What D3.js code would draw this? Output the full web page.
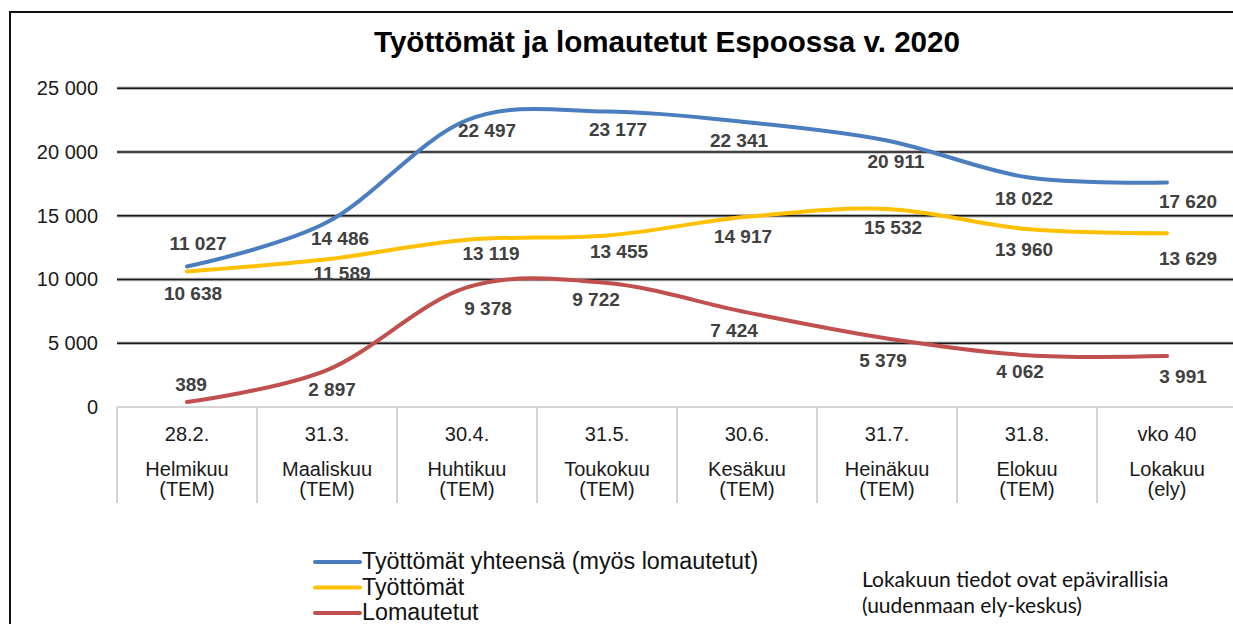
<!DOCTYPE html>
<html>
<head>
<meta charset="utf-8">
<script src="https://cdn.jsdelivr.net/npm/d3@7"></script>
<style>
  body { margin: 0; background: #fff; }
  text { font-family: "Liberation Sans", Arial, sans-serif; }
  text.note { font-family: Lato, "Open Sans", sans-serif; }
</style>
</head>
<body>
<div id="chart"></div>
<script>
// data
var dates = ['28.2.', '31.3.', '30.4.', '31.5.', '30.6.', '31.7.', '31.8.', 'vko 40'];
var months = ['Helmikuu', 'Maaliskuu', 'Huhtikuu', 'Toukokuu', 'Kesäkuu', 'Heinäkuu', 'Elokuu', 'Lokakuu'];
var sources = ['(TEM)', '(TEM)', '(TEM)', '(TEM)', '(TEM)', '(TEM)', '(TEM)', '(ely)'];

var totalValues = [11027, 14486, 22497, 23177, 22341, 20911, 18022, 17620];
var unemployedValues = [10638, 11589, 13119, 13455, 14917, 15532, 13960, 13629];
var laidOffValues = [389, 2897, 9378, 9722, 7424, 5379, 4062, 3991];

var seriesNames = ['Työttömät yhteensä (myös lomautetut)', 'Työttömät', 'Lomautetut'];
var yTicks = [0, 5000, 10000, 15000, 20000, 25000];

// label nudges (px) relative to each point, as placed in the original
var totalLabelOffsets = [[11,-23],[13,16],[20,10],[11,18],[-8,18],[9,21],[-3,21],[21,19]];
var unemployedLabelOffsets = [[6,22],[15,14],[24,13],[12,16],[-4,19],[6,18],[-3,20],[21,25]];
var laidOffLabelOffsets = [[4,-18],[5,19],[21,21],[-11,16],[-13,18],[-4,22],[-7,16],[16,20]];

var colors = ['#4a7ebf', '#ffc000', '#c0504d'];

var width = 1233, height = 624;

var svg = d3.select('#chart').append('svg')
  .attr('width', width)
  .attr('height', height);

// outer frame
svg.append('path')
  .attr('d', 'M10,' + height + ' V12 H' + width)
  .attr('fill', 'none')
  .attr('stroke', '#111')
  .attr('stroke-width', 2);

svg.append('text')
  .attr('x', 667)
  .attr('y', 52)
  .attr('text-anchor', 'middle')
  .attr('font-size', 29.6)
  .attr('font-weight', 'bold')
  .attr('fill', '#000')
  .text('Työttömät ja lomautetut Espoossa v. 2020');

var x = d3.scaleBand().domain(d3.range(dates.length)).range([117, 1237]).padding(0);
var y = d3.scaleLinear().domain([0, 25000]).range([407, 88.3]);

function cx(i) { return x(i) + x.bandwidth() / 2; }

// gridlines
var grid = svg.append('g').attr('class', 'grid');
var gridTicks = yTicks.filter(function (d) { return d > 0; });
grid.selectAll('.halo').data(gridTicks).enter().append('line')
  .attr('x1', 117).attr('x2', width)
  .attr('y1', function (d) { return y(d); })
  .attr('y2', function (d) { return y(d); })
  .attr('stroke', '#b4b4b4').attr('stroke-width', 3.5);
grid.selectAll('.core').data(gridTicks).enter().append('line')
  .attr('x1', 117).attr('x2', width)
  .attr('y1', function (d) { return y(d); })
  .attr('y2', function (d) { return y(d); })
  .attr('stroke', '#1a1a1a').attr('stroke-width', 1.6);

// y axis labels
var yAxis = d3.axisLeft(y).tickValues(yTicks).tickSize(0).tickPadding(0)
  .tickFormat(function (d) { return d3.format(',')(d).replace(/,/g, ' '); });
var yG = svg.append('g').attr('transform', 'translate(98,0)').call(yAxis);
yG.select('.domain').remove();
yG.selectAll('text')
  .attr('font-size', 20)
  .attr('fill', '#1a1a1a')
  .attr('font-family', '"Liberation Sans", Arial, sans-serif');

// category table under the axis
svg.append('line')
  .attr('x1', 117).attr('x2', width)
  .attr('y1', y(0)).attr('y2', y(0))
  .attr('stroke', '#d4d4d4').attr('stroke-width', 2);

svg.selectAll('.divider').data(d3.range(dates.length)).enter().append('line')
  .attr('x1', function (d) { return x(d); })
  .attr('x2', function (d) { return x(d); })
  .attr('y1', y(0)).attr('y2', 503)
  .attr('stroke', '#d4d4d4').attr('stroke-width', 2);

var cats = svg.selectAll('.cat').data(d3.range(dates.length)).enter().append('g')
  .attr('class', 'cat')
  .attr('transform', function (d) { return 'translate(' + cx(d) + ',0)'; });

cats.append('text').attr('y', 441).text(function (d) { return dates[d]; });
cats.append('text').attr('y', 476).text(function (d) { return months[d]; });
cats.append('text').attr('y', 496).text(function (d) { return sources[d]; });
cats.selectAll('text')
  .attr('text-anchor', 'middle')
  .attr('font-size', 20)
  .attr('fill', '#1a1a1a');

// lines
var series = [
  { values: totalValues, offsets: totalLabelOffsets, color: colors[0] },
  { values: unemployedValues, offsets: unemployedLabelOffsets, color: colors[1] },
  { values: laidOffValues, offsets: laidOffLabelOffsets, color: colors[2] }
];

var line = d3.line()
  .x(function (d, i) { return cx(i); })
  .y(function (d) { return y(d); })
  .curve(d3.curveCardinal.tension(0));

svg.selectAll('.series-line').data(series).enter().append('path')
  .attr('class', 'series-line')
  .attr('d', function (s) { return line(s.values); })
  .attr('fill', 'none')
  .attr('stroke', function (s) { return s.color; })
  .attr('stroke-width', 4)
  .attr('stroke-linecap', 'round');

var numFormat = function (v) { return d3.format(',')(v).replace(/,/g, ' '); };

series.forEach(function (s) {
  svg.append('g').selectAll('text').data(s.values).enter().append('text')
    .attr('x', function (d, i) { return cx(i) + s.offsets[i][0]; })
    .attr('y', function (d, i) { return y(d) + s.offsets[i][1]; })
    .attr('dy', '0.36em')
    .attr('text-anchor', 'middle')
    .attr('font-size', 19)
    .attr('font-weight', 'bold')
    .attr('fill', '#404040')
    .text(numFormat);
});

// legend
var legend = svg.selectAll('.legend').data(seriesNames).enter().append('g')
  .attr('class', 'legend')
  .attr('transform', function (d, i) { return 'translate(315,' + (562 + i * 25.5) + ')'; });

legend.append('line')
  .attr('x1', 0).attr('x2', 45)
  .attr('stroke', function (d, i) { return colors[i]; })
  .attr('stroke-width', 4)
  .attr('stroke-linecap', 'round');

legend.append('text')
  .attr('x', 47)
  .attr('y', 7)
  .attr('font-size', 23.3)
  .attr('fill', '#111')
  .text(function (d) { return d; });

// note
var note = svg.append('text')
  .attr('class', 'note')
  .attr('font-size', 21)
  .attr('fill', '#111');
note.append('tspan').attr('x', 862).attr('y', 587).text('Lokakuun tiedot ovat epävirallisia');
note.append('tspan').attr('x', 862).attr('y', 613).text('(uudenmaan ely-keskus)');
</script>
</body>
</html>
